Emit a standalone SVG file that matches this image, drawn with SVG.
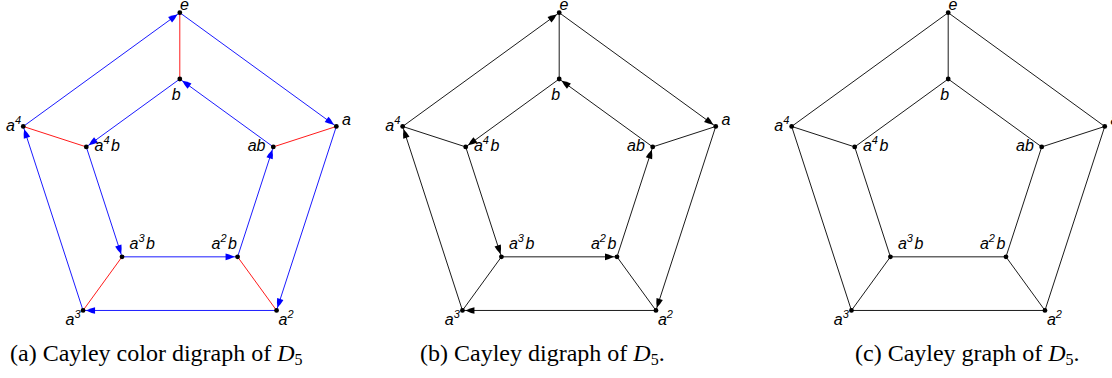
<svg xmlns="http://www.w3.org/2000/svg" width="1112" height="378" viewBox="0 0 1112 378">
<style>
.lbl{font-family:"Liberation Sans",Arial,sans-serif;font-style:italic;font-size:16px;fill:#000}
.sup{font-size:11px}
.cap{font-family:"Liberation Serif","Times New Roman",serif;font-size:24px;fill:#000}
.sub{font-size:16px}
.dot{fill:#000}
.bl{stroke:#0000ff;stroke-width:0.9;fill:none}
.rd{stroke:#ff0000;stroke-width:0.9;fill:none}
.bk{stroke:#000;stroke-width:0.9;fill:none}
.abl{marker-end:url(#mb)}
.abk{marker-end:url(#mk)}
</style>
<defs>
<marker id="mb" viewBox="-11 -4 15 8" refX="3" refY="0" markerWidth="15" markerHeight="8" markerUnits="userSpaceOnUse" orient="auto" overflow="visible">
<path d="M0,0 Q-4.8,-2.5 -9,-3.3 L-9,3.3 Q-4.8,2.5 0,0 Z" fill="#0000ff"/>
</marker>
<marker id="mk" viewBox="-11 -4 15 8" refX="3" refY="0" markerWidth="15" markerHeight="8" markerUnits="userSpaceOnUse" orient="auto" overflow="visible">
<path d="M0,0 Q-4.8,-2.5 -9,-3.3 L-9,3.3 Q-4.8,2.5 0,0 Z" fill="#000"/>
</marker>
</defs>

<!-- Panel (a) -->
<g id="panel-a">
<g id="a-connectors">
<line class="rd" x1="179.8" y1="12.7" x2="179.8" y2="79"/>
<line class="rd" x1="336.34" y1="126.44" x2="273.29" y2="146.92"/>
<line class="rd" x1="276.55" y1="310.46" x2="237.58" y2="256.83"/>
<line class="rd" x1="83.05" y1="310.46" x2="122.02" y2="256.83"/>
<line class="rd" x1="23.26" y1="126.44" x2="86.31" y2="146.92"/>
<line class="bl abl" x1="179.8" y1="12.7" x2="336.34" y2="126.44"/>
<line class="bl abl" x1="336.34" y1="126.44" x2="276.55" y2="310.46"/>
<line class="bl abl" x1="276.55" y1="310.46" x2="83.05" y2="310.46"/>
<line class="bl abl" x1="83.05" y1="310.46" x2="23.26" y2="126.44"/>
<line class="bl abl" x1="23.26" y1="126.44" x2="179.8" y2="12.7"/>
<line class="bl abl" x1="179.8" y1="79" x2="86.31" y2="146.92"/>
<line class="bl abl" x1="86.31" y1="146.92" x2="122.02" y2="256.83"/>
<line class="bl abl" x1="122.02" y1="256.83" x2="237.58" y2="256.83"/>
<line class="bl abl" x1="237.58" y1="256.83" x2="273.29" y2="146.92"/>
<line class="bl abl" x1="273.29" y1="146.92" x2="179.8" y2="79"/>
</g>
<g id="a-e"><circle class="dot" cx="179.8" cy="12.7" r="2.4"/><text class="lbl" x="180" y="10">e</text></g>
<g id="a-b"><circle class="dot" cx="179.8" cy="79" r="2.4"/><text class="lbl" x="176.2" y="99.5" text-anchor="middle">b</text></g>
<g id="a-a4"><circle class="dot" cx="23.26" cy="126.44" r="2.4"/><text class="lbl" x="21" y="130.5" text-anchor="end">a<tspan class="sup" dy="-7">4</tspan></text></g>
<g id="a-a4b"><circle class="dot" cx="86.31" cy="146.92" r="2.4"/><text class="lbl" x="94.5" y="151">a<tspan class="sup" dy="-7">4</tspan><tspan dx="1.5" dy="7">b</tspan></text></g>
<g id="a-ab"><circle class="dot" cx="273.29" cy="146.92" r="2.4"/><text class="lbl" x="265.5" y="151" text-anchor="end">ab</text></g>
<g id="a-a"><circle class="dot" cx="336.34" cy="126.44" r="2.4"/><text class="lbl" x="342" y="125">a</text></g>
<g id="a-a3b"><circle class="dot" cx="122.02" cy="256.83" r="2.4"/><text class="lbl" x="129.5" y="248.5">a<tspan class="sup" dy="-7">3</tspan><tspan dx="1.5" dy="7">b</tspan></text></g>
<g id="a-a2b"><circle class="dot" cx="237.58" cy="256.83" r="2.4"/><text class="lbl" x="237" y="248.5" text-anchor="end">a<tspan class="sup" dy="-7">2</tspan><tspan dx="1.5" dy="7">b</tspan></text></g>
<g id="a-a3"><circle class="dot" cx="83.05" cy="310.46" r="2.4"/><text class="lbl" x="80.5" y="324.5" text-anchor="end">a<tspan class="sup" dy="-7">3</tspan></text></g>
<g id="a-a2"><circle class="dot" cx="276.55" cy="310.46" r="2.4"/><text class="lbl" x="278.5" y="324.5">a<tspan class="sup" dy="-7">2</tspan></text></g>
</g>

<!-- Panel (b) -->
<g id="panel-b" transform="translate(379.4,0)">
<g id="b-connectors">
<line class="bk" x1="179.8" y1="12.7" x2="179.8" y2="79"/>
<line class="bk" x1="336.34" y1="126.44" x2="273.29" y2="146.92"/>
<line class="bk" x1="276.55" y1="310.46" x2="237.58" y2="256.83"/>
<line class="bk" x1="83.05" y1="310.46" x2="122.02" y2="256.83"/>
<line class="bk" x1="23.26" y1="126.44" x2="86.31" y2="146.92"/>
<line class="bk abk" x1="179.8" y1="12.7" x2="336.34" y2="126.44"/>
<line class="bk abk" x1="336.34" y1="126.44" x2="276.55" y2="310.46"/>
<line class="bk abk" x1="276.55" y1="310.46" x2="83.05" y2="310.46"/>
<line class="bk abk" x1="83.05" y1="310.46" x2="23.26" y2="126.44"/>
<line class="bk abk" x1="23.26" y1="126.44" x2="179.8" y2="12.7"/>
<line class="bk abk" x1="179.8" y1="79" x2="86.31" y2="146.92"/>
<line class="bk abk" x1="86.31" y1="146.92" x2="122.02" y2="256.83"/>
<line class="bk abk" x1="122.02" y1="256.83" x2="237.58" y2="256.83"/>
<line class="bk abk" x1="237.58" y1="256.83" x2="273.29" y2="146.92"/>
<line class="bk abk" x1="273.29" y1="146.92" x2="179.8" y2="79"/>
</g>
<g id="b-e"><circle class="dot" cx="179.8" cy="12.7" r="2.4"/><text class="lbl" x="180" y="10">e</text></g>
<g id="b-b"><circle class="dot" cx="179.8" cy="79" r="2.4"/><text class="lbl" x="176.2" y="99.5" text-anchor="middle">b</text></g>
<g id="b-a4"><circle class="dot" cx="23.26" cy="126.44" r="2.4"/><text class="lbl" x="21" y="130.5" text-anchor="end">a<tspan class="sup" dy="-7">4</tspan></text></g>
<g id="b-a4b"><circle class="dot" cx="86.31" cy="146.92" r="2.4"/><text class="lbl" x="94.5" y="151">a<tspan class="sup" dy="-7">4</tspan><tspan dx="1.5" dy="7">b</tspan></text></g>
<g id="b-ab"><circle class="dot" cx="273.29" cy="146.92" r="2.4"/><text class="lbl" x="265.5" y="151" text-anchor="end">ab</text></g>
<g id="b-a"><circle class="dot" cx="336.34" cy="126.44" r="2.4"/><text class="lbl" x="342" y="125">a</text></g>
<g id="b-a3b"><circle class="dot" cx="122.02" cy="256.83" r="2.4"/><text class="lbl" x="129.5" y="248.5">a<tspan class="sup" dy="-7">3</tspan><tspan dx="1.5" dy="7">b</tspan></text></g>
<g id="b-a2b"><circle class="dot" cx="237.58" cy="256.83" r="2.4"/><text class="lbl" x="237" y="248.5" text-anchor="end">a<tspan class="sup" dy="-7">2</tspan><tspan dx="1.5" dy="7">b</tspan></text></g>
<g id="b-a3"><circle class="dot" cx="83.05" cy="310.46" r="2.4"/><text class="lbl" x="80.5" y="324.5" text-anchor="end">a<tspan class="sup" dy="-7">3</tspan></text></g>
<g id="b-a2"><circle class="dot" cx="276.55" cy="310.46" r="2.4"/><text class="lbl" x="278.5" y="324.5">a<tspan class="sup" dy="-7">2</tspan></text></g>
</g>

<!-- Panel (c) -->
<g id="panel-c" transform="translate(768.4,0)">
<g id="c-connectors">
<line class="bk" x1="179.8" y1="12.7" x2="179.8" y2="79"/>
<line class="bk" x1="336.34" y1="126.44" x2="273.29" y2="146.92"/>
<line class="bk" x1="276.55" y1="310.46" x2="237.58" y2="256.83"/>
<line class="bk" x1="83.05" y1="310.46" x2="122.02" y2="256.83"/>
<line class="bk" x1="23.26" y1="126.44" x2="86.31" y2="146.92"/>
<line class="bk" x1="179.8" y1="12.7" x2="336.34" y2="126.44"/>
<line class="bk" x1="336.34" y1="126.44" x2="276.55" y2="310.46"/>
<line class="bk" x1="276.55" y1="310.46" x2="83.05" y2="310.46"/>
<line class="bk" x1="83.05" y1="310.46" x2="23.26" y2="126.44"/>
<line class="bk" x1="23.26" y1="126.44" x2="179.8" y2="12.7"/>
<line class="bk" x1="179.8" y1="79" x2="86.31" y2="146.92"/>
<line class="bk" x1="86.31" y1="146.92" x2="122.02" y2="256.83"/>
<line class="bk" x1="122.02" y1="256.83" x2="237.58" y2="256.83"/>
<line class="bk" x1="237.58" y1="256.83" x2="273.29" y2="146.92"/>
<line class="bk" x1="273.29" y1="146.92" x2="179.8" y2="79"/>
</g>
<g id="c-e"><circle class="dot" cx="179.8" cy="12.7" r="2.4"/><text class="lbl" x="180" y="10">e</text></g>
<g id="c-b"><circle class="dot" cx="179.8" cy="79" r="2.4"/><text class="lbl" x="176.2" y="99.5" text-anchor="middle">b</text></g>
<g id="c-a4"><circle class="dot" cx="23.26" cy="126.44" r="2.4"/><text class="lbl" x="21" y="130.5" text-anchor="end">a<tspan class="sup" dy="-7">4</tspan></text></g>
<g id="c-a4b"><circle class="dot" cx="86.31" cy="146.92" r="2.4"/><text class="lbl" x="94.5" y="151">a<tspan class="sup" dy="-7">4</tspan><tspan dx="1.5" dy="7">b</tspan></text></g>
<g id="c-ab"><circle class="dot" cx="273.29" cy="146.92" r="2.4"/><text class="lbl" x="265.5" y="151" text-anchor="end">ab</text></g>
<g id="c-a"><circle class="dot" cx="336.34" cy="126.44" r="2.4"/><text class="lbl" x="342" y="125">a</text></g>
<g id="c-a3b"><circle class="dot" cx="122.02" cy="256.83" r="2.4"/><text class="lbl" x="129.5" y="248.5">a<tspan class="sup" dy="-7">3</tspan><tspan dx="1.5" dy="7">b</tspan></text></g>
<g id="c-a2b"><circle class="dot" cx="237.58" cy="256.83" r="2.4"/><text class="lbl" x="237" y="248.5" text-anchor="end">a<tspan class="sup" dy="-7">2</tspan><tspan dx="1.5" dy="7">b</tspan></text></g>
<g id="c-a3"><circle class="dot" cx="83.05" cy="310.46" r="2.4"/><text class="lbl" x="80.5" y="324.5" text-anchor="end">a<tspan class="sup" dy="-7">3</tspan></text></g>
<g id="c-a2"><circle class="dot" cx="276.55" cy="310.46" r="2.4"/><text class="lbl" x="278.5" y="324.5">a<tspan class="sup" dy="-7">2</tspan></text></g>
</g>

<!-- Captions -->
<text class="cap" x="10" y="361">(a) Cayley color digraph of <tspan font-style="italic">D</tspan><tspan class="sub" dy="4">5</tspan></text>
<text class="cap" x="420" y="361">(b) Cayley digraph of <tspan font-style="italic">D</tspan><tspan class="sub" dy="4">5</tspan><tspan dy="-4">.</tspan></text>
<text class="cap" x="855" y="361">(c) Cayley graph of <tspan font-style="italic">D</tspan><tspan class="sub" dy="4">5</tspan><tspan dy="-4">.</tspan></text>
</svg>
